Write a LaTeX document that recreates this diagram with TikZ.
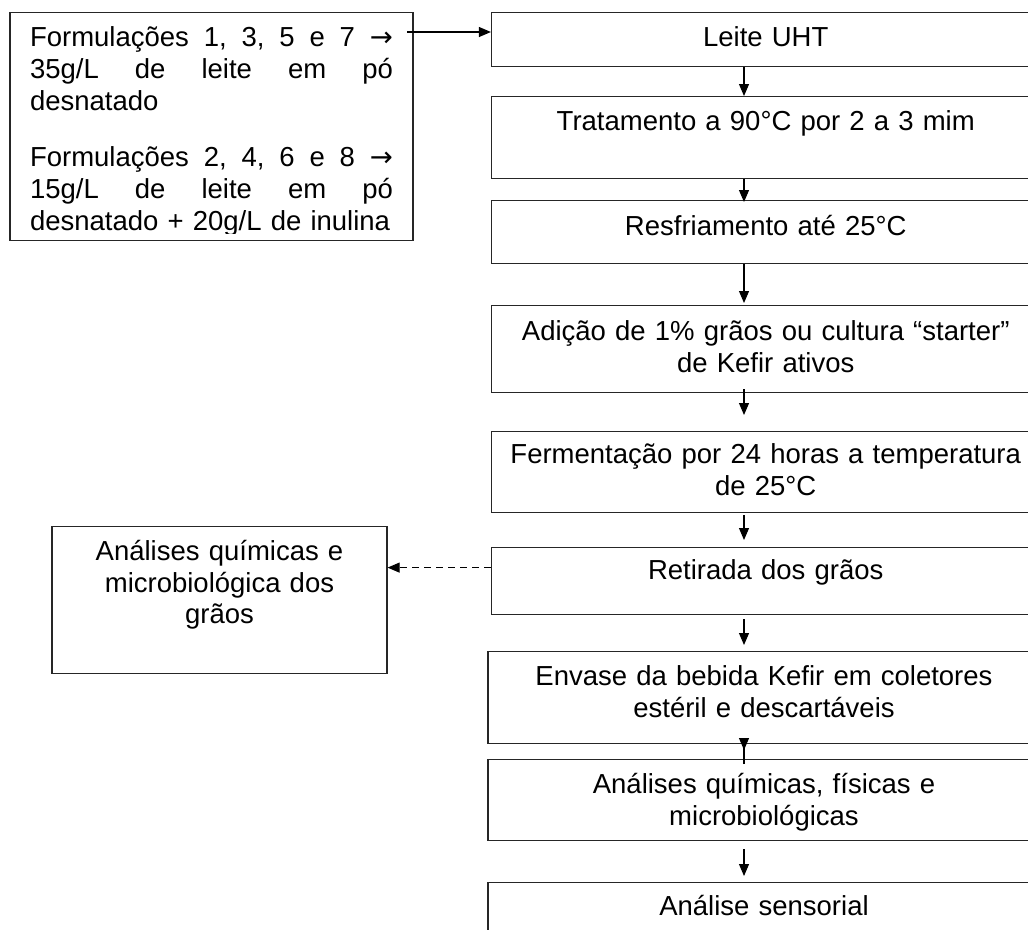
\documentclass[tikz,border=0pt]{standalone}
\usepackage{fontspec}
\setmainfont{Liberation Sans}
\newfontfamily\symf{DejaVu Sans}
\usetikzlibrary{arrows.meta}
\newcommand\fsz{\fontsize{27.5}{31.5}\selectfont}
\newcommand\fszf{\fontsize{27.5}{32}\selectfont}
\newcommand\rarr{{\symf →}}
\newcommand\jline[1]{\leavevmode\hbox to 363pt{#1}}
\begin{document}
\begin{tikzpicture}[x=1pt,y=-1pt,
  box/.style={draw=black!85, line width=1.2pt, inner xsep=0pt, inner ysep=0pt,
    align=center, font=\fsz, anchor=north, text height=34pt},
  arr/.style={line width=1.1pt, draw=black, -{Triangle[length=12pt,width=10pt]}},
  dasharr/.style={arr, dash pattern=on 7pt off 5pt}
]
\useasboundingbox (0,0) rectangle (1028,929);
\clip (0,0) rectangle (1028,929);
\fill[white] (0,0) rectangle (1028,929);

% right column
\node[box, text width=548.5pt, text depth=20pt] (b1) at (765.75,12) {Leite UHT};
\node[box, text width=548.5pt, text depth=48pt] (b2) at (765.75,96) {Tratamento a 90°C por 2 a 3 mim};
\node[box, text width=548.5pt, text height=35pt, text depth=28pt] (b3) at (765.75,200) {Resfriamento até 25°C};
\node[box, text width=548.5pt, text height=35pt, text depth=52pt] (b4) at (765.75,305) {Adição de 1\% grãos ou cultura “starter”\\de Kefir ativos};
\node[box, text width=548.5pt, text height=32pt, text depth=49pt] (b5) at (765.75,431) {Fermentação por 24 horas a temperatura\\de 25°C};
\node[box, text width=548.5pt, text height=32pt, text depth=35pt] (b6) at (765.75,547) {Retirada dos grãos};
\node[box, text width=552pt, text depth=58pt] (b7) at (764,651) {Envase da bebida Kefir em coletores\\estéril e descartáveis};
\node[box, text width=552pt, text depth=47pt] (b8) at (764,759) {Análises químicas, físicas e\\microbiológicas};
\node[box, text width=552pt, text height=33pt, text depth=60pt] (b9) at (764,882) {Análise sensorial};

% left boxes
\node[box, text width=335pt, text depth=113pt] (L) at (219.5,526) {Análises químicas e\\microbiológica dos\\grãos};

\begin{scope}[even odd rule]
\clip (0,0) rectangle (1028,929) (16,233) rectangle (407,238.5);
\node[box, align=left, font=\fszf, inner xsep=20pt, text width=363pt, text height=34pt, text depth=194pt] (F) at (211.5,12) {%
\jline{Formulações\hfill 1,\hfill 3,\hfill 5\hfill e\hfill 7\hfill \rarr}\\
\jline{35g/L\hfill de\hfill leite\hfill em\hfill pó}\\
desnatado\\[24pt]
\jline{Formulações\hfill 2,\hfill 4,\hfill 6\hfill e\hfill 8\hfill \rarr}\\
\jline{15g/L\hfill de\hfill leite\hfill em\hfill pó}\\
desnatado + 20g/L de inulina};
\end{scope}

% connectors
\coordinate (ax) at (744,0);
\draw[arr] (b1.south -| ax) -- (b2.north -| ax);
\draw[arr, shorten >=-2pt] (b2.south -| ax) -- (b3.north -| ax);
\draw[arr, shorten >=2pt] (b3.south -| ax) -- (b4.north -| ax);
\draw[arr, shorten <=-4pt, shorten >=16pt] (b4.south -| ax) -- (b5.north -| ax);
\draw[arr, shorten <=2pt, shorten >=7pt] (b5.south -| ax) -- (b6.north -| ax);
\draw[arr, shorten <=4pt, shorten >=6pt] (b6.south -| ax) -- (b7.north -| ax);
\draw[arr, shorten <=-20pt, shorten >=9pt] (b7.south -| ax) -- (b8.north -| ax);
\draw[arr, shorten <=8pt, shorten >=6pt] (b8.south -| ax) -- (b9.north -| ax);

\coordinate (fa) at (407,32);
\draw[arr] (fa) -- (fa -| b1.west);
\coordinate (da) at ([yshift=13.5pt]b6.west);
\draw[dasharr] (da) -- (da -| L.east);
\end{tikzpicture}
\end{document}
